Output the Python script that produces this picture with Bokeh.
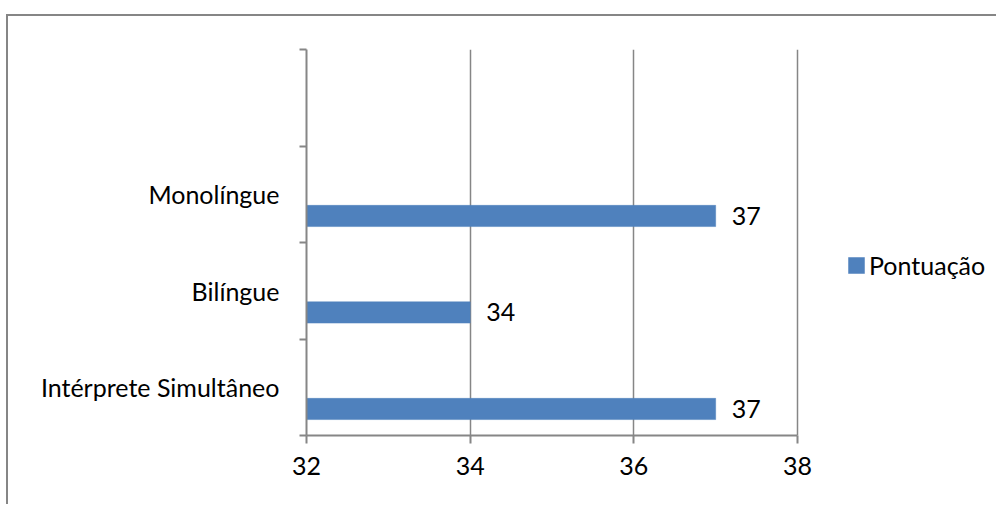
from bokeh.plotting import figure
from bokeh.models import (Range1d, LinearAxis, FixedTicker, Legend,
                          LegendItem, ColumnDataSource, Grid)
from bokeh.core.properties import value
from bokeh.embed import file_html
from bokeh.resources import INLINE

# ---- data ----
categories = ["Intérprete Simultâneo", "Bilíngue", "Monolíngue", ""]
scores = [37, 34, 37, None]
series_name = "Pontuação"
x_ticks = [32, 34, 36, 38]

FONT = "Lato"
FS = "25px"
GRAY = "#868686"
BAR = "#4F81BD"

n = len(categories)
bar_h = 0.22
bar_shift = 0.225

# layout (pixels): the frame extends to the right edge so that value labels and
# the legend are not clipped; the axis itself is bounded to the tick range.
axis_px = 491
frame_px = 692
x_start = x_ticks[0]
x_end = x_start + (x_ticks[-1] - x_ticks[0]) * frame_px / axis_px

ys, vals, labels = [], [], []
for i, v in enumerate(scores):
    if v is None:
        continue
    ys.append(i + 0.5 - bar_shift)
    vals.append(v)
    labels.append(str(v))
src = ColumnDataSource(dict(y=ys, right=vals, lbl=labels))

p = figure(width=990, height=490, x_range=Range1d(x_start, x_end), y_range=Range1d(0, n),
           output_backend="svg", toolbar_location=None,
           x_axis_location=None, y_axis_location=None,
           min_border_left=298, min_border_right=0, min_border_top=33, min_border_bottom=71)
# outer chart-area border (left and top edges visible in the crop)
p.styles = {"margin-left": "6px", "margin-top": "14px",
            "border-left": "2px solid #868686", "border-top": "2px solid #868686"}
p.outline_line_color = None
p.background_fill_color = "white"
p.border_fill_color = "white"
p.center = []

# x axis
xa = LinearAxis(ticker=FixedTicker(ticks=x_ticks, minor_ticks=[]),
                bounds=(x_ticks[0], x_ticks[-1]))
xa.axis_line_color = GRAY
xa.axis_line_width = 2
xa.major_tick_line_color = GRAY
xa.major_tick_line_width = 2
xa.major_tick_out = 8
xa.major_tick_in = 0
xa.minor_tick_line_color = None
xa.major_label_text_font = FONT
xa.major_label_text_font_size = FS
xa.major_label_text_color = "black"
xa.major_label_standoff = 13
p.add_layout(xa, "below")

# y axis (category labels at centers, ticks at boundaries)
centers = [i + 0.5 for i in range(n)]
ya = LinearAxis(ticker=FixedTicker(ticks=centers, minor_ticks=list(range(n + 1))))
ya.major_label_overrides = {c: lab for c, lab in zip(centers, categories)}
ya.axis_line_color = GRAY
ya.axis_line_width = 2
ya.major_tick_line_color = None
ya.major_tick_out = 0
ya.major_tick_in = 0
ya.minor_tick_line_color = GRAY
ya.minor_tick_line_width = 2
ya.minor_tick_out = 7
ya.minor_tick_in = 0
ya.major_label_text_font = FONT
ya.major_label_text_font_size = FS
ya.major_label_text_color = "black"
ya.major_label_standoff = 20
p.add_layout(ya, "left")

# vertical gridlines
g = Grid(dimension=0, ticker=FixedTicker(ticks=x_ticks[1:]))
g.grid_line_color = GRAY
g.grid_line_width = 1.5
p.add_layout(g)

bars = p.hbar(y="y", left=x_start, right="right", height=bar_h, source=src,
              fill_color=BAR, line_color=BAR, line_width=0.5)

p.text(x="right", y="y", text="lbl", source=src, x_offset=16,
       text_baseline="middle", text_align="left",
       text_font=value(FONT), text_font_size=FS, text_color="black")

legend = Legend(items=[LegendItem(label=series_name, renderers=[bars])],
                location=(540, 155), padding=0, margin=0,
                border_line_color=None, background_fill_alpha=0,
                glyph_width=20, glyph_height=20, label_standoff=3,
                label_text_font=FONT, label_text_font_size=FS, label_text_color="black")
p.add_layout(legend)

open("out.html", "w").write(file_html(p, INLINE))
